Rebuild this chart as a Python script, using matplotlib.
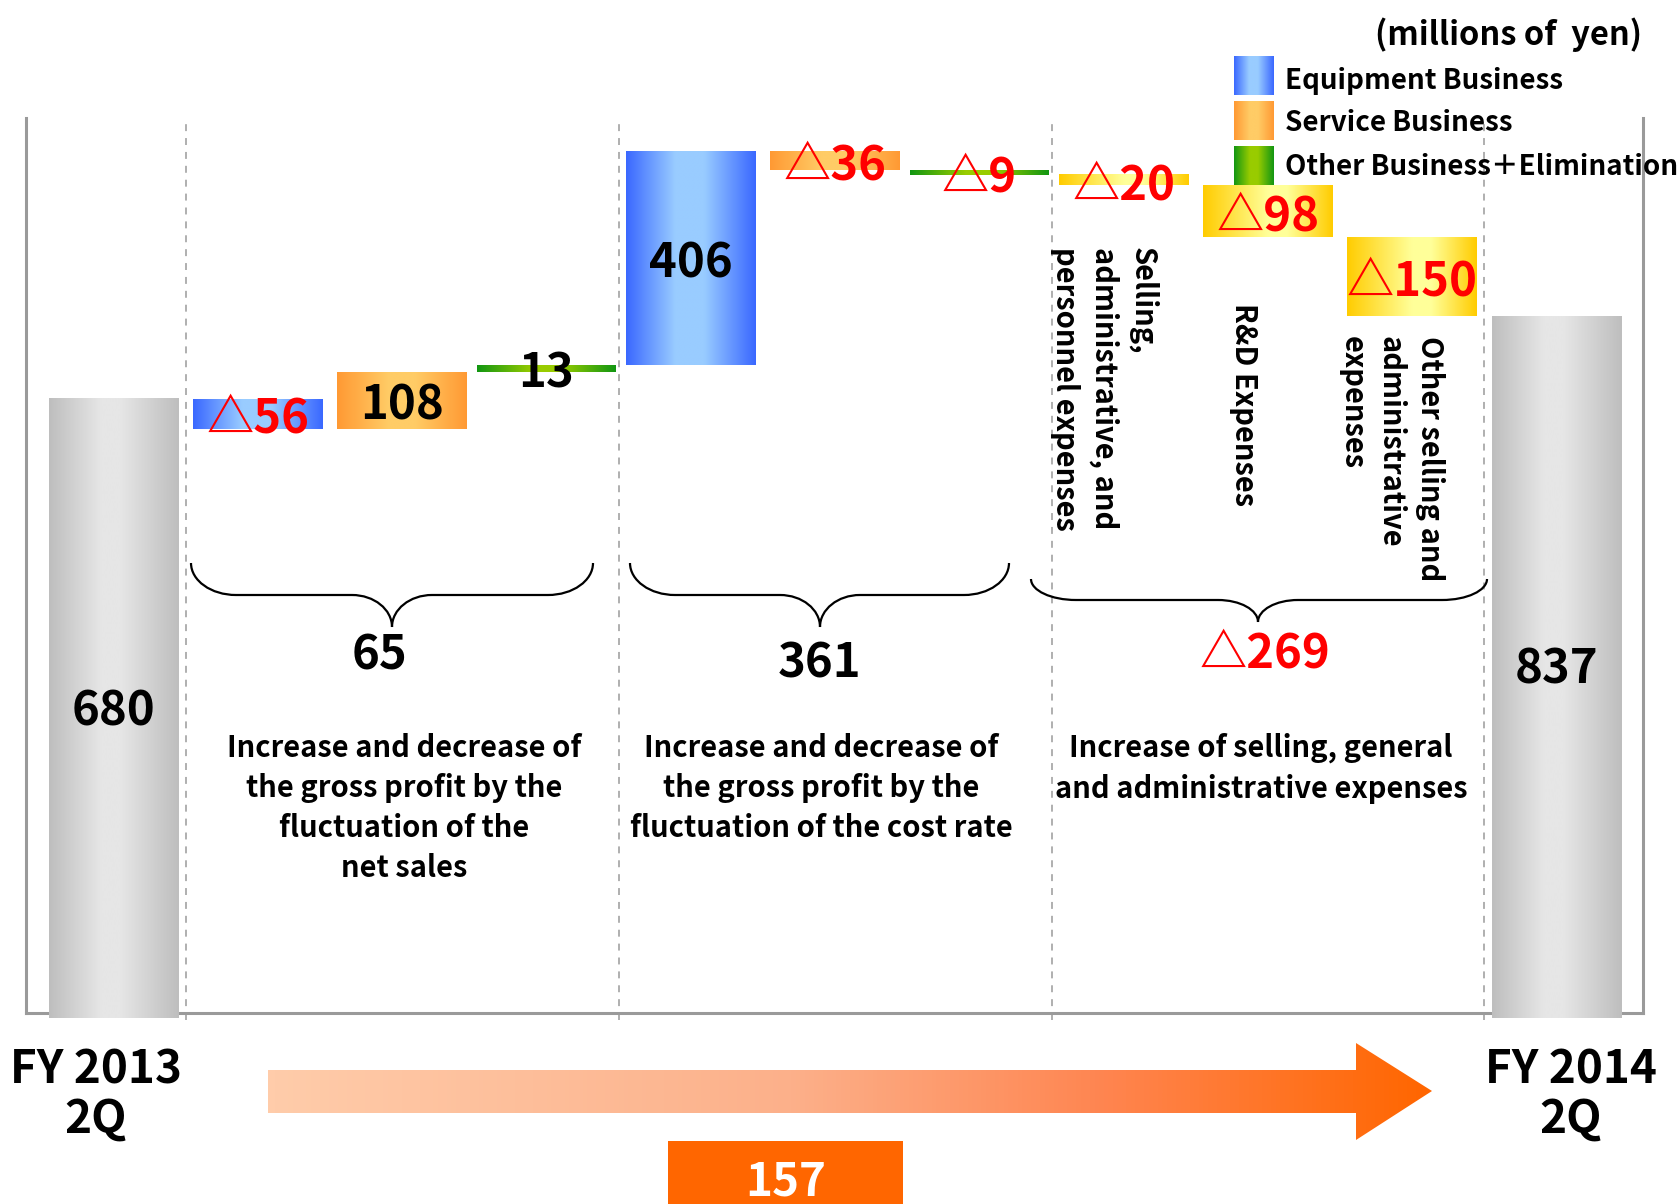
import numpy as np
import matplotlib
matplotlib.use("Agg")
import matplotlib.pyplot as plt
from matplotlib.colors import LinearSegmentedColormap
from matplotlib.path import Path
from matplotlib.patches import PathPatch, Polygon

plt.rcParams["font.family"] = ["Noto Sans CJK JP", "DejaVu Sans"]
plt.rcParams["font.weight"] = "bold"
plt.rcParams["lines.scale_dashes"] = False

# ---------------- data (millions of yen) ----------------
period_labels = ["FY 2013\n2Q", "FY 2014\n2Q"]
period_values = [680, 837]
step_values = [-56, 108, 13, 406, -36, -9, -20, -98, -150]
step_segments = ["Equipment", "Service", "Other",
                 "Equipment", "Service", "Other",
                 "SGA", "SGA", "SGA"]
group_sizes = [3, 3, 3]
group_totals = [65, 361, -269]
group_captions = [
    "Increase and decrease of\nthe gross profit by the\nfluctuation of the\nnet sales",
    "Increase and decrease of\nthe gross profit by the\nfluctuation of the cost rate",
    "Increase of selling, general\nand administrative expenses",
]
sga_item_labels = ["Selling,\nadministrative, and\npersonnel expenses",
                   "R&D Expenses",
                   "Other selling and\nadministrative\nexpenses"]
net_change = 157
legend_segments = ["Equipment", "Service", "Other"]
legend_labels = ["Equipment Business", "Service Business",
                 "Other Business＋Elimination"]
unit_label = "(millions of  yen)"


# ---------------- styling helpers ----------------
def band(edge, mid, lo=0.4, hi=0.6):
    return LinearSegmentedColormap.from_list(
        "band", [(0, edge), (lo, mid), (hi, mid), (1, edge)])


CMAPS = {
    "Equipment": band("#3A68FF", "#99CCFF", 0.38, 0.6),
    "Service": band("#FF9933", "#FFCC66", 0.4, 0.6),
    "Other": band("#129612", "#99CC00", 0.4, 0.6),
    "SGA": band("#FFCC00", "#FFFF99", 0.5, 0.65),
    "Total": band("#BEBEBE", "#E6E6E6", 0.4, 0.55),
}
ARROW_CMAP = LinearSegmentedColormap.from_list(
    "arrow", [(0, "#FFCCAA"), (0.45, "#FCB08A"), (0.72, "#FF8550"), (1, "#FF6600")])
RED = "#FF0000"
GRID_GRAY = "#9A9A9A"


def fmt(v):
    return f"△{abs(v)}" if v < 0 else f"{v}"


def tone(v):
    return RED if v < 0 else "black"


def gradient_rect(axis, x0, x1, y0, y1, cmap, z=3, clip=None, clip_on=True):
    im = axis.imshow(np.linspace(0, 1, 256)[None, :], cmap=cmap,
                     extent=(x0, x1, y0, y1), aspect="auto",
                     interpolation="bilinear", zorder=z)
    im.set_clip_on(clip_on)
    if clip is not None:
        im.set_clip_path(clip)
    return im


# ---------------- figure / main waterfall axes ----------------
W, H = 1681, 1204
fig = plt.figure(figsize=(W / 100, H / 100), dpi=100)
ax = fig.add_axes([26 / W, 1 - 1013 / H, (1643 - 26) / W, (1013 - 118) / H])

FLOOR = -486           # axis floor; the period totals rise from here
n_steps = len(step_values)
running = period_values[0] + np.concatenate([[0], np.cumsum(step_values)])
step_bottom = np.minimum(running[:-1], running[1:])
step_height = np.abs(step_values)
step_x = np.arange(1, n_steps + 1)
total_x = np.array([0, n_steps + 1])

VALUE_FS = 34

# period totals
tot_bars = ax.bar(total_x, np.array(period_values) - (FLOOR - 10),
                  bottom=FLOOR - 10, width=0.9, color="none", linewidth=0)
for bar, val in zip(tot_bars, period_values):
    x0, y0 = bar.get_x(), bar.get_y()
    gradient_rect(ax, x0, x0 + bar.get_width(), y0, y0 + bar.get_height(),
                  CMAPS["Total"], z=3, clip_on=False)
    ax.text(bar.get_x() + bar.get_width() / 2, (FLOOR + val) / 2, fmt(val),
            ha="center", va="center_baseline", fontsize=VALUE_FS, color="black", zorder=6)

# step bars
widths = [0.96 if s == "Other" else 0.9 for s in step_segments]
step_bars = ax.bar(step_x, step_height, bottom=step_bottom, width=widths,
                   color="none", linewidth=0)
for bar, val, seg in zip(step_bars, step_values, step_segments):
    x0, y0 = bar.get_x(), bar.get_y()
    gradient_rect(ax, x0, x0 + bar.get_width(), y0, y0 + bar.get_height(),
                  CMAPS[seg], z=3)
    ax.text(x0 + bar.get_width() / 2, y0 + bar.get_height() / 2, fmt(val),
            ha="center", va="center_baseline", fontsize=VALUE_FS, color=tone(val), zorder=6)

# group separators
bounds = np.concatenate([[0], np.cumsum(group_sizes)]) + 0.5
for b in bounds:
    ax.axvline(b, ymin=-0.008, ymax=1, color=GRID_GRAY, lw=1.1,
               ls=(0, (5, 5)), clip_on=False, zorder=1)

ax.set_xlim(-0.607, 10.599)
ax.set_ylim(FLOOR, 1214)
ax.set_xticks([])
ax.set_yticks([])
ax.spines["top"].set_visible(False)
for side in ("left", "right", "bottom"):
    ax.spines[side].set_color(GRID_GRAY)
    ax.spines[side].set_linewidth(2.2)
ax.spines["bottom"].set_zorder(2)

# ---------------- overlay for annotations (pixel units) ----------------
ov = fig.add_axes([0, 0, 1, 1], zorder=5)
ov.patch.set_alpha(0)

# unit and legend
ov.text(1642, 45, unit_label, ha="right", va="baseline", fontsize=23.5)
leg_tops = [56, 101, 146]
leg_base = [89, 131, 175]
for seg, lab, top, base in zip(legend_segments, legend_labels, leg_tops, leg_base):
    gradient_rect(ov, 1234, 1274, top + 39, top, CMAPS[seg], z=3)
    ov.text(1285, base, lab, ha="left", va="baseline", fontsize=20)

# vertical item labels for the SG&A steps
for lab, cx, top in zip(sga_item_labels, [1104, 1244, 1391], [247, 303, 336]):
    ov.text(cx, top, lab, rotation=270, ha="center", va="top",
            multialignment="left", fontsize=21, linespacing=1.36)


def brace(axis, x0, x1, xm, ytop, yh, ytip, r=45, r2=40):
    k = 0.552
    verts = [
        (x0, ytop),
        (x0, ytop + k * (yh - ytop)), (x0 + (1 - k) * r, yh), (x0 + r, yh),
        (xm - r2, yh),
        (xm - r2 + k * r2, yh), (xm, ytip - k * (ytip - yh)), (xm, ytip),
        (xm, ytip - k * (ytip - yh)), (xm + r2 - k * r2, yh), (xm + r2, yh),
        (x1 - r, yh),
        (x1 - (1 - k) * r, yh), (x1, ytop + k * (yh - ytop)), (x1, ytop),
    ]
    codes = ([Path.MOVETO] + [Path.CURVE4] * 3 + [Path.LINETO] + [Path.CURVE4] * 6
             + [Path.LINETO] + [Path.CURVE4] * 3)
    axis.add_patch(PathPatch(Path(verts, codes), fill=False, lw=1.6,
                             edgecolor="black", zorder=4))


brace_geom = [(191, 593, 392, 563, 595, 627),
              (630, 1009, 820, 563, 595, 627),
              (1031, 1487, 1258, 579, 600, 622)]
total_pos = [(380, 669), (820, 678), (1265, 667)]
caption_x = [404, 821, 1261]
for geom, tot, (tx, ty) in zip(brace_geom, group_totals, total_pos):
    brace(ov, *geom)
    ov.text(tx, ty, fmt(tot), ha="center", va="baseline", fontsize=34, color=tone(tot))
for cap, cx in zip(group_captions, caption_x):
    ov.text(cx, 733, cap, ha="center", va="top", fontsize=21,
            multialignment="center", linespacing=1.42)

# period labels
for lab, cx in zip(period_labels, [96, 1571]):
    ov.text(cx, 1047, lab, ha="center", va="top", fontsize=33,
            multialignment="center", linespacing=1.09)

# progression arrow with gradient fill
arrow = Polygon([(268, 1070), (1356, 1070), (1356, 1043), (1432, 1091),
                 (1356, 1140), (1356, 1113), (268, 1113)], closed=True,
                facecolor="none", edgecolor="none")
ov.add_patch(arrow)
gradient_rect(ov, 268, 1432, 1140, 1043, ARROW_CMAP, z=3, clip=arrow)

# net change box
ov.add_patch(plt.Rectangle((668, 1141), 235, 63, facecolor="#FF6600",
                           edgecolor="none", zorder=3))
ov.text(786, 1195, f"{net_change}", ha="center", va="baseline", fontsize=33,
        color="white", zorder=4)

ov.set_xlim(0, W)
ov.set_ylim(H, 0)
ov.axis("off")

fig.savefig("out.png", dpi=100, facecolor="white")
